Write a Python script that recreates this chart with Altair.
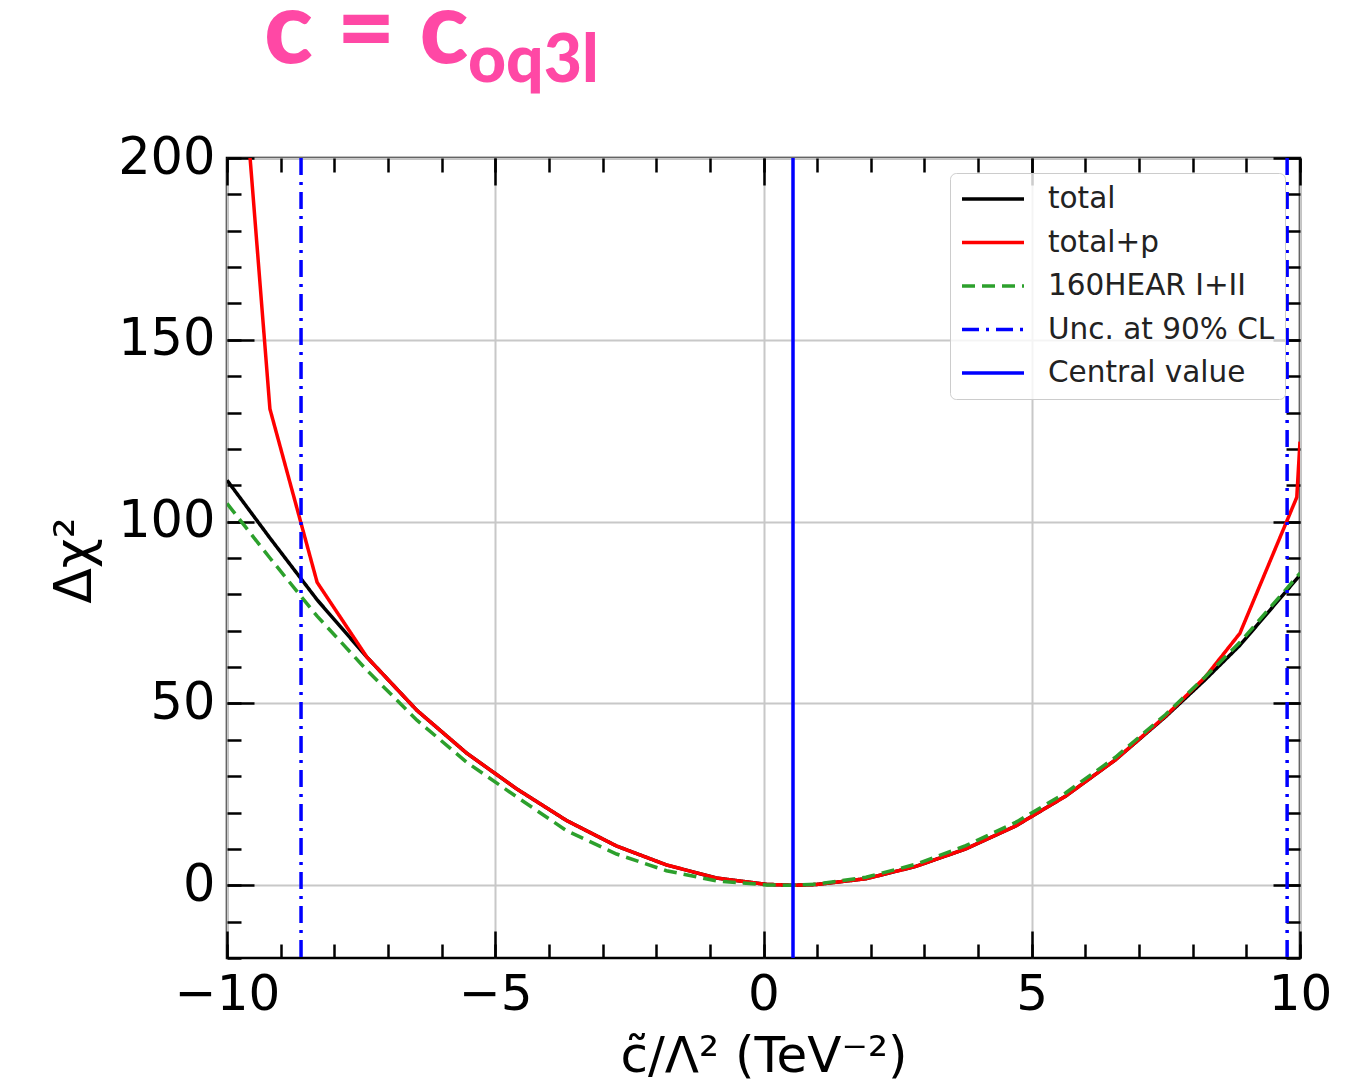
import altair as alt
import pandas as pd

# ---------------- data ----------------
series_names = ["total", "total+p", "160HEAR I+II", "Unc. at 90% CL", "Central value"]
series_colors = ["#000000", "#ff0000", "#2ca02c", "#0000ff", "#0000ff"]
series_dashes = [[1, 0], [1, 0], [13, 7], [17, 7, 3, 7], [1, 0]]

x_total = [-10.0, -9.2, -8.32, -7.39, -6.46, -5.53, -4.6, -3.67, -2.74, -1.81, -0.88, 0.05, 0.55,
           0.98, 1.91, 2.84, 3.77, 4.7, 5.63, 6.56, 7.49, 8.23, 8.88, 10.0]
y_total = [111.4, 95.5, 78.5, 62.7, 48.1, 36.3, 26.5, 17.8, 10.8, 5.6, 2.0, 0.25, 0.0,
           0.2, 1.8, 5.2, 10.0, 16.3, 24.5, 34.5, 46.3, 56.5, 66.0, 85.3]

x_totalp = [-9.65, -9.2, -8.32, -7.39, -6.46, -5.53, -4.6, -3.67, -2.74, -1.81, -0.88, 0.05, 0.55,
            0.98, 1.91, 2.84, 3.77, 4.7, 5.63, 6.56, 7.49, 8.23, 8.88, 9.94, 10.0]
y_totalp = [215.0, 131.0, 83.3, 62.7, 48.1, 36.3, 26.5, 17.8, 10.8, 5.6, 2.0, 0.25, 0.0,
            0.2, 1.8, 5.2, 10.0, 16.3, 24.5, 34.5, 46.5, 57.2, 69.3, 106.7, 122.0]

x_hear = [-10.0, -9.2, -8.32, -7.39, -6.46, -5.53, -4.6, -3.67, -2.74, -1.81, -0.88, 0.05, 0.55,
          0.98, 1.91, 2.84, 3.77, 4.7, 5.63, 6.56, 7.49, 8.23, 8.88, 10.0]
y_hear = [105.0, 90.0, 74.0, 59.1, 45.4, 33.8, 24.3, 15.0, 8.6, 4.0, 1.2, 0.1, 0.0,
          0.3, 2.2, 5.8, 10.9, 17.3, 25.4, 35.2, 46.9, 57.3, 66.8, 85.8]

unc_x = [-8.62, 9.76]
central_x = [0.55]

x_major = [-10, -5, 0, 5, 10]
x_minor = [-10, -9, -8, -7, -6, -5, -4, -3, -2, -1, 0, 1, 2, 3, 4, 5, 6, 7, 8, 9, 10]
y_major = [0, 50, 100, 150, 200]
y_minor = [-20, -10, 0, 10, 20, 30, 40, 50, 60, 70, 80, 90, 100, 110, 120, 130, 140, 150,
           160, 170, 180, 190, 200]

title_main = ["c = c"]
title_sub = ["oq3l"]

W, H = 1073, 800
PINK = "#ff48a5"

# ---------------- tables ----------------
df_lines = pd.concat([
    pd.DataFrame({"x": x_total, "y": y_total, "series": series_names[0]}),
    pd.DataFrame({"x": x_totalp, "y": y_totalp, "series": series_names[1]}),
    pd.DataFrame({"x": x_hear, "y": y_hear, "series": series_names[2]}),
], ignore_index=True)

df_vlines = pd.concat([
    pd.DataFrame({"x": unc_x, "series": series_names[3]}),
    pd.DataFrame({"x": central_x, "series": series_names[4]}),
], ignore_index=True)

xs = alt.Scale(domain=[-10, 10], nice=False, zero=False)
ys = alt.Scale(domain=[-20, 200], nice=False, zero=False)

color_scale = alt.Scale(domain=series_names, range=series_colors)
dash_scale = alt.Scale(domain=series_names, range=series_dashes)

legend = alt.Legend(
    title=None, orient="top-right", offset=15, symbolType="stroke",
    symbolSize=3844, symbolStrokeWidth=3.5, clipHeight=32, rowPadding=11.5,
    labelFontSize=29.5, labelFont="DejaVu Sans", labelColor="#222222", labelOffset=22,
    labelLimit=500, padding=10, fillColor="rgba(255,255,255,0.8)",
    strokeColor="#cccccc", cornerRadius=6,
)

minus_expr = "replace(datum.label, '-', '\u2212')"

x_label_axis = alt.Axis(
    orient="bottom", values=x_major, ticks=False, domain=False, grid=True,
    gridColor="#c8c8c8", gridWidth=2, labelFontSize=50, labelPadding=11,
    labelFlush=False, labelColor="black", labelExpr=minus_expr,
    title="c\u0303/\u039b\u00b2 (TeV\u207b\u00b2)", titleFontSize=50, titleY=113,
    titleBaseline="alphabetic", titleFontWeight="normal", titleColor="black",
)
y_label_axis = alt.Axis(
    orient="left", values=y_major, ticks=False, domain=False, grid=True,
    gridColor="#c8c8c8", gridWidth=2, labelFontSize=51, labelPadding=12,
    labelColor="black", labelExpr=minus_expr,
    title="\u0394\u03c7\u00b2", titleFontSize=52, titleX=-137, titleY=402,
    titleAngle=270, titleAlign="center", titleBaseline="alphabetic",
    titleFontWeight="normal", titleColor="black",
)

lines = alt.Chart(df_lines).mark_line(clip=True, strokeWidth=3.5).encode(
    x=alt.X("x:Q", scale=xs, axis=x_label_axis),
    y=alt.Y("y:Q", scale=ys, axis=y_label_axis),
    color=alt.Color("series:N", scale=color_scale, legend=legend),
    strokeDash=alt.StrokeDash("series:N", scale=dash_scale, legend=legend),
)

vlines = alt.Chart(df_vlines).mark_rule(strokeWidth=3.5).encode(
    x=alt.X("x:Q", scale=xs, axis=None),
    color=alt.Color("series:N", scale=color_scale, legend=legend),
    strokeDash=alt.StrokeDash("series:N", scale=dash_scale, legend=legend),
)


def tick_layer(channel, values, orient, offset, size):
    ax = alt.Axis(orient=orient, offset=offset, values=values, tickSize=size,
                  tickWidth=2.5, tickColor="black", labels=False, domain=False,
                  grid=False, title=None)
    df = pd.DataFrame({"v": values})
    if channel == "x":
        enc = {"x": alt.X("v:Q", scale=xs, axis=ax)}
    else:
        enc = {"y": alt.Y("v:Q", scale=ys, axis=ax)}
    return alt.Chart(df).mark_rule(opacity=0).encode(**enc)


ticks = [
    tick_layer("x", x_major, "top", -H, 27),
    tick_layer("x", x_minor, "top", -H, 14),
    tick_layer("x", x_major, "bottom", -H, 27),
    tick_layer("x", x_minor, "bottom", -H, 14),
    tick_layer("y", y_major, "right", -W, 27),
    tick_layer("y", y_minor, "right", -W, 14),
    tick_layer("y", y_major, "left", -W, 27),
    tick_layer("y", y_minor, "left", -W, 14),
]

t_main = alt.Chart(pd.DataFrame({"t": title_main})).mark_text(
    align="left", baseline="alphabetic", font="Lato", fontWeight=900,
    fontSize=101, color=PINK,
).encode(text="t:N", x=alt.value(37), y=alt.value(-95))

t_sub = alt.Chart(pd.DataFrame({"t": title_sub})).mark_text(
    align="left", baseline="alphabetic", font="Lato", fontWeight=900,
    fontSize=66, color=PINK,
).encode(text="t:N", x=alt.value(241), y=alt.value(-76))

chart = alt.layer(lines, vlines, *ticks, t_main, t_sub).resolve_axis(
    x="independent", y="independent"
).properties(
    width=W, height=H,
    autosize=alt.AutoSizeParams(type="none"),
    padding={"left": 219, "top": 150, "right": 55, "bottom": 125},
).configure_view(
    stroke="black", strokeWidth=2.5
).configure_axis(
    labelFont="DejaVu Sans", titleFont="DejaVu Sans"
)

chart.save("out.html", embed_options={"renderer": "svg", "actions": False})
